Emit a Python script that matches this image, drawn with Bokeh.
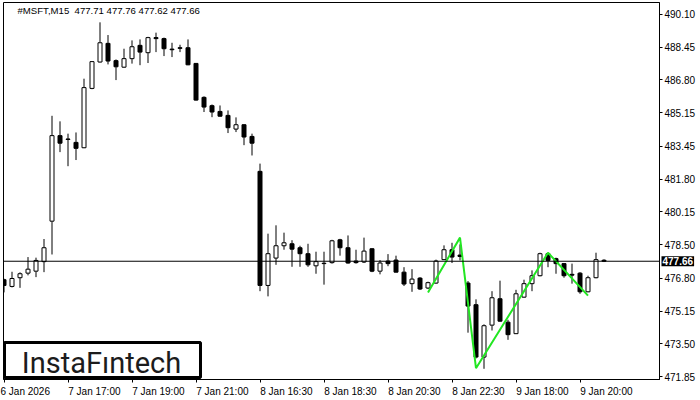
from bokeh.plotting import figure
from bokeh.models import (Range1d, FixedTicker, LinearAxis, Span, Label, BoxAnnotation,
                          ColumnDataSource, PrintfTickFormatter)
from bokeh.embed import file_html
from bokeh.resources import INLINE

symbol = "#MSFT,M15"

opens = [476.73, 476.39, 476.83, 477.06, 477.16, 477.64, 479.68, 483.99, 483.82, 483.65,
         483.38, 486.37, 487.70, 488.64, 487.77, 487.44, 487.87, 488.54, 488.17, 488.93,
         488.88, 488.35, 488.42, 488.42, 487.63, 485.92, 485.50, 485.21, 485.01, 484.32,
         484.54, 483.95, 482.19, 476.44, 477.82, 478.44, 478.54, 478.34, 478.04, 477.43,
         477.54, 477.59, 478.74, 478.34, 477.67, 477.62, 478.29, 477.16, 477.67, 477.72,
         477.11, 476.53, 476.81, 476.31, 476.56, 477.74, 478.24, 477.97, 476.56, 475.47,
         472.83, 474.44, 475.77, 474.59, 474.01, 475.85, 476.53, 476.93, 478.04, 477.79,
         477.54, 477.00, 477.06, 476.12, 476.83, 477.71]
highs = [476.78, 477.13, 477.10, 477.87, 477.84, 478.78, 484.99, 484.71, 484.09, 484.15,
         486.86, 487.74, 489.70, 489.06, 487.83, 488.37, 488.79, 488.84, 488.97, 489.18,
         488.93, 488.67, 488.57, 488.84, 487.65, 485.97, 485.56, 485.51, 485.26, 484.91,
         484.56, 484.09, 482.58, 479.05, 479.47, 479.10, 478.72, 478.44, 478.54, 478.14,
         478.14, 478.74, 478.79, 478.96, 478.24, 478.85, 478.31, 477.72, 478.02, 477.94,
         477.36, 477.26, 476.86, 476.63, 477.74, 478.46, 478.59, 478.51, 476.66, 475.74,
         474.48, 476.15, 476.68, 474.71, 476.22, 476.73, 477.20, 478.09, 478.09, 477.84,
         477.56, 477.54, 477.11, 476.93, 478.09, 477.76]
lows = [476.09, 476.34, 476.32, 476.95, 476.86, 477.11, 478.00, 483.16, 482.45, 482.76,
        483.36, 486.33, 487.68, 487.58, 486.79, 487.41, 487.62, 487.54, 487.65, 488.20,
        488.00, 487.95, 488.20, 487.54, 485.76, 485.18, 484.92, 484.95, 484.12, 484.17,
        483.51, 482.99, 476.15, 475.89, 477.48, 478.24, 477.38, 477.38, 477.38, 477.03,
        476.48, 477.54, 477.94, 477.54, 477.54, 477.57, 477.11, 477.00, 477.41, 477.10,
        476.41, 476.12, 476.21, 476.26, 476.53, 477.72, 477.57, 477.70, 474.06, 472.76,
        472.24, 474.17, 474.62, 473.70, 473.99, 475.82, 476.15, 476.90, 477.36, 477.03,
        476.83, 476.53, 476.02, 476.10, 476.80, 477.62]
closes = [476.44, 476.79, 477.03, 477.26, 477.70, 478.34, 483.99, 483.61, 483.80, 483.35,
          486.41, 487.72, 488.67, 487.75, 487.46, 487.87, 488.47, 488.20, 488.93, 488.88,
          488.37, 488.32, 488.39, 487.56, 485.78, 485.43, 485.18, 484.97, 484.39, 484.54,
          483.92, 483.61, 476.44, 478.04, 478.44, 478.59, 478.27, 478.04, 477.48, 477.64,
          477.56, 478.69, 478.34, 477.57, 477.59, 478.17, 477.16, 477.57, 477.54, 477.11,
          476.51, 476.76, 476.26, 476.58, 477.67, 478.24, 477.87, 477.90, 475.40, 472.83,
          474.41, 475.82, 474.64, 473.96, 476.02, 476.53, 476.93, 478.04, 477.70, 477.54,
          476.93, 476.96, 476.12, 476.83, 477.74, 477.66]

time_ticks = [0, 8, 16, 24, 32, 40, 48, 56, 64, 72]
time_labels = ["6 Jan 2026", "7 Jan 17:00", "7 Jan 19:00", "7 Jan 21:00", "8 Jan 16:30",
               "8 Jan 18:30", "8 Jan 20:30", "8 Jan 22:30", "9 Jan 18:00", "9 Jan 20:00"]
price_ticks = [490.10, 488.45, 486.80, 485.15, 483.45, 481.80, 480.15, 478.50,
               476.80, 475.15, 473.50, 471.85]

pattern_idx = [53, 57, 59, 68, 73]
pattern_price = [476.09, 478.85, 472.27, 478.09, 475.93]

brand = "InstaF\u0131ntech"

idx = list(range(len(opens)))
src = ColumnDataSource(dict(
    x=idx, o=opens, h=highs, l=lows, c=closes,
    top=[max(o, c) for o, c in zip(opens, closes)],
    bottom=[min(o, c) for o, c in zip(opens, closes)],
    fill=["white" if c > o else "black" for o, c in zip(opens, closes)],
))

X0, X1 = -0.0625, 81.9375
# fixed plotting frame; the outer panel that holds the price tag lies past the window edge
p = figure(frame_width=656, frame_height=377, output_backend="svg", toolbar_location=None,
           x_range=Range1d(X0, X1), y_range=Range1d(471.70, 490.70),
           min_border_left=3, min_border_right=41, min_border_top=2, min_border_bottom=21,
           x_axis_location=None, y_axis_location=None)
p.xgrid.visible = False
p.ygrid.visible = False
p.outline_line_color = "black"
p.outline_line_width = 1
p.outline_line_alpha = 1
p.background_fill_color = "white"
p.border_fill_color = "white"

FONT = "Liberation Sans"

# MT4 writes the time labels starting at the tick; Bokeh centres them, so pad on the left
# with no-break spaces of about the same width as the label (the first label is pushed
# inside the canvas edge by Bokeh itself).
EM = {" ": 0.278, ":": 0.278, "J": 0.5}
def left_anchored(label):
    width = sum(EM.get(ch, 0.556) for ch in label)
    return "\u00a0" * round(width / 0.278) + label

overrides = {}
for i, (t, lab) in enumerate(zip(time_ticks, time_labels)):
    overrides[t] = lab if i == 0 else left_anchored(lab)

xaxis = LinearAxis(ticker=FixedTicker(ticks=time_ticks), major_label_overrides=overrides)
yaxis = LinearAxis(ticker=FixedTicker(ticks=price_ticks),
                   formatter=PrintfTickFormatter(format="%.2f"))
for ax in (xaxis, yaxis):
    ax.axis_line_color = "black"
    ax.major_tick_line_color = "black"
    ax.major_tick_in = 0
    ax.major_tick_out = 3
    ax.minor_tick_line_color = None
    ax.major_label_text_font = FONT
    ax.major_label_text_font_size = "10px"
    ax.major_label_text_color = "black"
xaxis.major_label_standoff = 3
yaxis.major_label_standoff = 2
p.add_layout(xaxis, "below")
p.add_layout(yaxis, "right")

p.add_layout(Span(location=closes[-1], dimension="width", line_color="black", line_width=1))

p.segment(x0="x", y0="l", x1="x", y1="h", source=src, line_color="black", line_width=1)
p.vbar(x="x", width=0.5, top="top", bottom="bottom", fill_color="fill",
       line_color="black", line_width=1, source=src)

p.line(pattern_idx, pattern_price, line_color="#22E622", line_width=2)

title = f"{symbol}\u00a0 {opens[-1]:.2f} {highs[-1]:.2f} {lows[-1]:.2f} {closes[-1]:.2f}"
p.add_layout(Label(x=1.69, y=490.55, text=title, text_baseline="top", text_align="left",
                   text_font=FONT, text_font_size="9.6px", text_color="black"))

# current price tag on the price scale: placed in a side panel so it is not clipped
p.add_layout(Label(x=X1, y=closes[-1], x_offset=2, text=f"{closes[-1]:.2f}",
                   text_baseline="middle", text_align="left", text_font=FONT,
                   text_font_size="10px", text_font_style="bold", text_color="white",
                   background_fill_color="black", padding=1), "right")

p.add_layout(BoxAnnotation(left=0.06, right=24.56, top=473.57, bottom=471.80,
                           fill_color="white", fill_alpha=1, line_color="black",
                           line_width=3, line_alpha=1))
p.add_layout(Label(x=12.19, y=472.21, y_offset=6, text=brand, text_align="center",
                   text_baseline="alphabetic", text_font="Roboto", text_font_size="29px",
                   text_color="#1c1c1c"))

html = file_html(p, INLINE)
html = html.replace("<head>",
                    "<head><style>html,body{margin:0;padding:0;overflow:hidden;}</style>", 1)
open("out.html", "w").write(html)
